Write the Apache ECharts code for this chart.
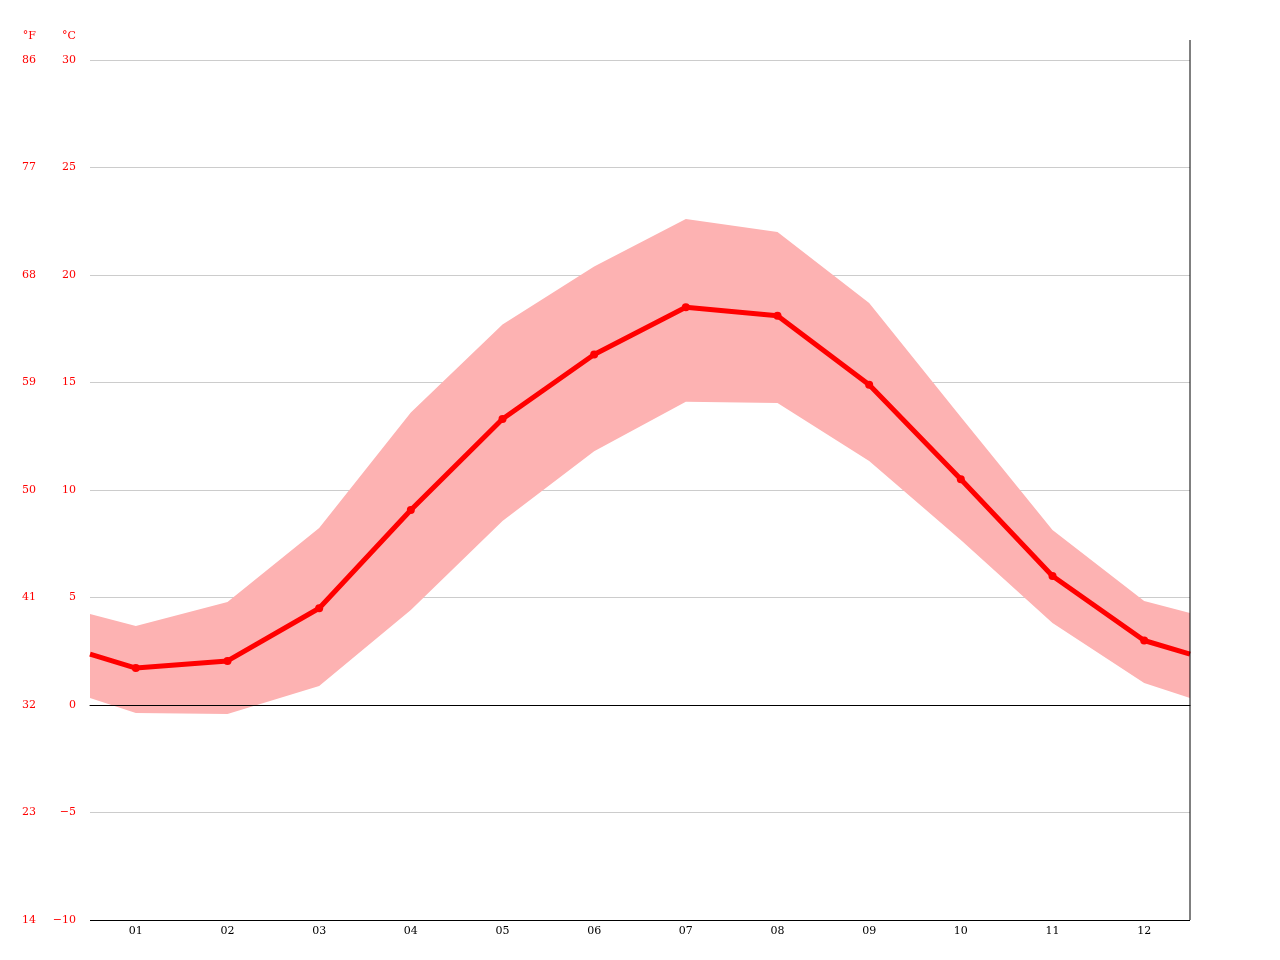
<!DOCTYPE html>
<html>
<head>
<meta charset="utf-8">
<script src="https://cdn.jsdelivr.net/npm/echarts@6/dist/echarts.min.js"></script>
<style>html,body{margin:0;padding:0;background:#fff}#chart{width:1280px;height:960px}</style>
</head>
<body>
<div id="chart"></div>
<script>
// months on the axis
const months = ['01', '02', '03', '04', '05', '06', '07', '08', '09', '10', '11', '12']
// positions: 0 and 12 are the chart edges, months sit at .5
const xPos = [0, 0.5, 1.5, 2.5, 3.5, 4.5, 5.5, 6.5, 7.5, 8.5, 9.5, 10.5, 11.5, 12]
const tMean = [2.37, 1.72, 2.05, 4.5, 9.07, 13.3, 16.3, 18.5, 18.1, 14.9, 10.5, 6.0, 3.0, 2.37]
const tMax = [4.23, 3.67, 4.79, 8.23, 13.6, 17.7, 20.4, 22.6, 22.0, 18.7, 13.4, 8.14, 4.84, 4.28]
const tMin = [0.33, -0.37, -0.42, 0.88, 4.42, 8.56, 11.8, 14.1, 14.05, 11.35, 7.67, 3.81, 1.02, 0.33]

const font = 'DejaVu Serif'
const red = '#ff0000'

const chart = echarts.init(document.getElementById('chart'))

const pairs = arr => arr.map((v, i) => [xPos[i], v])
const minus = v => String(v).replace('-', '\u2212')

// band polygon: upper edge left to right, then lower edge back
const renderBand = (params, api) => {
    if (params.dataIndex !== 0) return
    let top = xPos.map((x, i) => api.coord([x, tMax[i]]))
    let bot = xPos.map((x, i) => api.coord([x, tMin[i]])).reverse()
    return {
        type: 'polygon',
        shape: { points: top.concat(bot) },
        style: { fill: '#fdb2b2' }
    }
}

const option = {
    animation: false,
    textStyle: { fontFamily: font },
    grid: { left: 90, right: 90, top: 60, bottom: 40 },
    xAxis: [
        {
            type: 'category',
            data: months,
            boundaryGap: true,
            axisLine: { lineStyle: { color: '#000' } },
            axisTick: { lineStyle: { color: '#000' }, length: 4 },
            axisLabel: { color: '#000', fontSize: 11, fontFamily: font, margin: 6 },
            splitLine: { show: false }
        },
        { type: 'value', min: 0, max: 12, show: false }
    ],
    yAxis: [
        {
            type: 'value', min: -10, max: 30, interval: 5, position: 'left',
            name: '°C', nameLocation: 'end', nameGap: 18,
            nameTextStyle: { color: red, fontSize: 11, fontFamily: font, align: 'right', padding: [0, 14, 0, 0] },
            axisLine: { show: false }, axisTick: { show: false },
            axisLabel: { color: red, fontSize: 11, fontFamily: font, margin: 14, formatter: minus },
            splitLine: { lineStyle: { color: '#cccccc' } }
        },
        {
            type: 'value', min: 14, max: 86, interval: 9, position: 'left', offset: 40,
            name: '°F', nameLocation: 'end', nameGap: 18,
            nameTextStyle: { color: red, fontSize: 11, fontFamily: font, align: 'right', padding: [0, 14, 0, 0] },
            axisLine: { show: false }, axisTick: { show: false },
            axisLabel: { color: red, fontSize: 11, fontFamily: font, margin: 14 },
            splitLine: { show: false }
        }
    ],
    graphic: [
        { type: 'line', z: 100, shape: { x1: 1190, y1: 40, x2: 1190, y2: 920 }, style: { stroke: '#000', lineWidth: 1 } }
    ],
    series: [
        {
            type: 'custom', xAxisIndex: 1, yAxisIndex: 0,
            data: xPos.map((x, i) => [x, tMin[i], tMax[i]]),
            encode: { x: 0, y: [1, 2] },
            renderItem: renderBand, silent: true, z: 1
        },
        {
            type: 'line', xAxisIndex: 1, yAxisIndex: 0,
            data: pairs(tMean).map((p, i) => (i === 0 || i === xPos.length - 1) ? { value: p, symbol: 'none' } : p),
            symbol: 'circle', symbolSize: 8,
            itemStyle: { color: red }, lineStyle: { color: red, width: 5 }, z: 3,
            markLine: {
                silent: true, symbol: 'none', label: { show: false },
                lineStyle: { color: '#000', width: 1, type: 'solid' },
                data: [{ yAxis: 0 }, { yAxis: -10 }]
            }
        }
    ]
}

chart.setOption(option)
</script>
</body>
</html>
